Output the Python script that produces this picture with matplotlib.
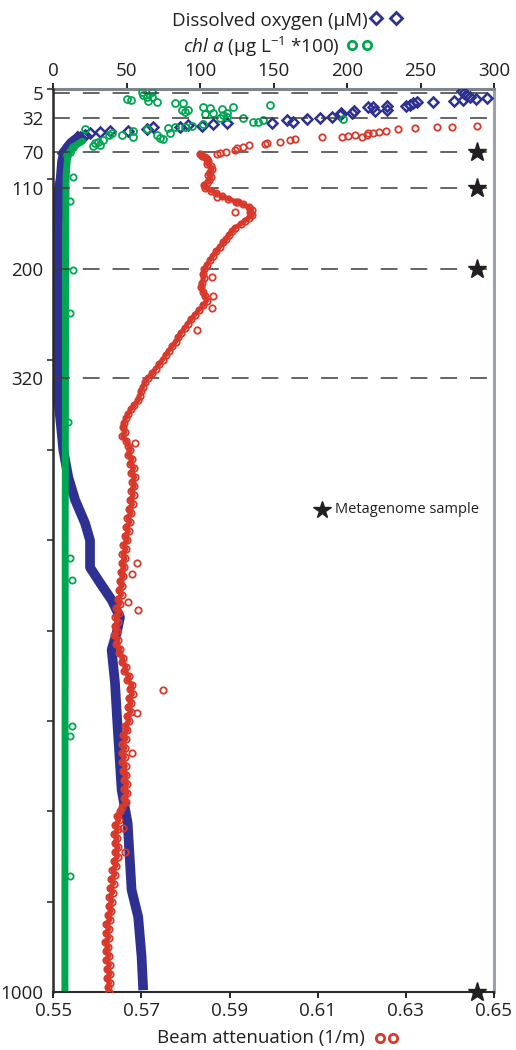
import matplotlib
matplotlib.use("Agg")
import matplotlib.pyplot as plt
from matplotlib.lines import Line2D

plt.rcParams['font.family'] = ['Open Sans', 'DejaVu Sans']
plt.rcParams['mathtext.fontset'] = 'custom'
plt.rcParams['mathtext.rm'] = 'Open Sans'
plt.rcParams['mathtext.it'] = 'Open Sans:italic'

BLUE = '#2e3192'
GREEN = '#00a651'
RED = '#d9392b'
STAR = '#231f20'

# ---- dissolved oxygen (uM), sparse surface diamonds
oxy_top_depth = [2.2, 5.1, 7.0, 8.8, 11.4, 9.9, 13.6, 12.5, 14.7, 14.7, 16.2, 18.0, 19.2,
                 19.2, 23.6, 19.9, 24.7, 20.6, 24.7, 27.2, 26.5, 29.1, 31.0, 32.8, 33.9,
                 36.5, 34.7, 37.6, 38.4, 39.1, 40.9, 40.2, 42.8, 42.8, 44.6, 46.5, 46.5,
                 48.3, 49.4, 51.3, 53.1, 55.0, 58.7, 64.2, 67.9, 71.5]
oxy_top_val = [278, 279.5, 281, 283.6, 288, 295.4, 273, 278.6, 258.7, 247.8, 245, 242.8, 240,
               227, 227, 217.8, 219, 214.4, 204.7, 203, 196, 195, 189.5, 181.5, 172.4,
               163.4, 159.3, 148.6, 118, 109, 101, 92, 86, 68, 63.5, 51, 38.6,
               31.8, 25, 21.6, 18, 15.9, 12.5, 10.2, 8, 6.8]

# ---- dissolved oxygen, dense profile (drawn as a thick band)
oxy_depth = [50, 55, 60, 65, 70, 80, 90, 100, 110, 150, 200, 250, 300, 344, 381, 400, 430,
             455, 481, 500, 530, 547, 566, 585, 603, 621, 658, 702, 776, 813, 887, 917, 961, 998]
oxy_val = [19, 16, 12, 9.5, 7.5, 6, 5.5, 5, 3.8, 3.2, 3, 3, 3, 3.4, 5.7, 6.8, 10.2,
           14.8, 21.6, 25, 25, 31.8, 39.7, 45.4, 43.1, 39.7, 42, 43.6, 46.5, 50.6, 53.3, 57.8, 60.1, 61.2]

# ---- chl a (ug/L * 100), surface circles
chl_top_depth = [3.3, 3.3, 7.0, 9.6, 9.6, 14.4, 11.4, 12.5, 13.3, 16.2, 15.5, 23.6, 25.4,
                 23.6, 19.9, 21.7, 28.0, 27.2, 22.4, 29.1, 27.2, 20.6, 32.8, 31.7, 32.8,
                 36.5, 36.5, 34.7, 18.4, 33.9, 39.4, 41.3, 42.0, 42.8, 43.9, 46.5, 53.1,
                 51.3, 48.7, 51.3, 56.8, 58.7, 60.4, 62.3, 63.4, 45.0, 51.3, 55.0, 56.0,
                 45.0, 49.4, 64.2, 69.7, 73.4]
chl_top_val = [60.1, 66.9, 61.3, 63.5, 66.9, 70.3, 49.9, 52.9, 64.7, 82.8, 88.5, 87.4, 89.6,
               91.9, 102.1, 106.6, 103.2, 108.9, 114.6, 115.7, 118, 122.5, 113.4, 118, 129.3,
               136.1, 139.5, 143, 147.5, 197.4, 102.1, 94.2, 89.6, 82.8, 78.3, 54.5, 54.5,
               46.5, 39.7, 38.1, 34, 30.6, 28.4, 31.8, 27.2, 21.6, 70.3, 72.6, 74.9,
               63.5, 79.4, 13.6, 11.3, 9.1]

# ---- chl a dense profile and a few deep outliers
chl_depth = [58, 62, 66, 70, 75, 80, 90, 100, 150, 200, 300, 400, 500, 600, 700, 800, 900, 1000]
chl_val = [20, 16, 13, 11, 10, 9.5, 9, 8.7, 8.5, 8.4, 8.3, 8.2, 8.1, 8.1, 8.0, 8.0, 7.9, 7.9]
chl_out_depth = [97.4, 124, 200.7, 248, 368.6, 519.5, 544, 706, 717, 872]
chl_out_val = [13.6, 11.3, 13.2, 11.3, 10.2, 11.4, 12.5, 12.5, 11.4, 11.4]

# ---- beam attenuation (1/m)
att_depth = [41.3, 42.0, 42.8, 43.9, 45.0, 46.5, 47.6, 48.7, 49.4, 51.3, 53.9, 51.3, 52.4,
             53.1, 53.9, 56.1, 56.8, 58.7, 60.4, 61.2, 62.3, 64.2, 66.0, 67.9, 69.7, 71.5,
             72, 74, 76, 78, 80, 83, 86, 89, 92, 95, 98, 101, 104, 107, 110, 113, 116, 119,
             122, 125, 128, 131, 134, 137, 140, 143, 146, 150, 154, 158, 162, 166, 170, 175,
             180, 185, 190, 195, 200, 205, 210, 215, 220, 225, 230, 235, 240, 245, 250, 255,
             260, 265, 270, 275, 280, 285, 290, 295, 300, 305, 310, 315, 320, 325, 330, 335,
             340, 345, 350, 355, 360, 365, 370, 375, 380, 385, 390, 395, 400, 405, 410, 415,
             420, 425, 430, 435, 440, 445, 450, 455, 460, 465, 470, 475, 480, 485, 490, 495,
             500, 505, 510, 515, 520, 525, 530, 535, 540, 545, 550, 555, 560, 565, 570, 575,
             580, 585, 590, 595, 600, 605, 610, 615, 620, 625, 630, 635, 640, 645, 650, 655,
             660, 665, 670, 675, 680, 685, 690, 695, 700, 705, 710, 715, 720, 725, 730, 735,
             740, 745, 750, 755, 760, 765, 770, 775, 780, 785, 790, 795, 800, 805, 810, 815,
             820, 825, 830, 835, 840, 845, 850, 855, 860, 865, 870, 875, 880, 885, 890, 895,
             900, 905, 910, 915, 920, 925, 930, 935, 940, 945, 950, 955, 960, 965, 970, 975,
             980, 985, 990, 995, 1000]
att_val = [0.6462, 0.6404, 0.6370, 0.6321, 0.6283, 0.6256, 0.6238, 0.6226, 0.6215, 0.6211,
           0.6200, 0.6185, 0.6169, 0.6154, 0.6109, 0.6048, 0.6037, 0.6014, 0.5984, 0.5980,
           0.5943, 0.5931, 0.5916, 0.5912, 0.5893, 0.5878,
           0.5832, 0.5838, 0.5845, 0.5848, 0.5852, 0.5849, 0.5857, 0.5859, 0.5855, 0.5852,
           0.5858, 0.5854, 0.5848, 0.5842, 0.5845, 0.5858, 0.5870, 0.5882, 0.5897, 0.5915,
           0.5930, 0.5944, 0.5950, 0.5946, 0.5952, 0.5944, 0.5936, 0.5925, 0.5912, 0.5905,
           0.5899, 0.5893, 0.5886, 0.5878, 0.5870, 0.5862, 0.5855, 0.5849, 0.5843, 0.5840,
           0.5841, 0.5838, 0.5836, 0.5840, 0.5845, 0.5848, 0.5840, 0.5830, 0.5822, 0.5813,
           0.5805, 0.5798, 0.5790, 0.5784, 0.5778, 0.5770, 0.5762, 0.5755, 0.5748, 0.5740,
           0.5732, 0.5725, 0.5715, 0.5708, 0.5703, 0.5699, 0.5696,
           0.5692, 0.5684, 0.5676, 0.5670, 0.5664, 0.5661, 0.5658, 0.5663, 0.5657, 0.5666,
           0.5670, 0.5675, 0.5669, 0.5679, 0.5674, 0.5683, 0.5676, 0.5685, 0.5679, 0.5684,
           0.5677, 0.5682, 0.5674, 0.5680, 0.5671, 0.5677, 0.5668, 0.5674, 0.5665, 0.5671,
           0.5662, 0.5668, 0.5659, 0.5665, 0.5657, 0.5663, 0.5655, 0.5661, 0.5653, 0.5659,
           0.5651, 0.5657, 0.5648, 0.5655, 0.5646, 0.5652, 0.5643, 0.5649, 0.5641, 0.5647,
           0.5640, 0.5645, 0.5638, 0.5647, 0.5643, 0.5652, 0.5648, 0.5658, 0.5655, 0.5665,
           0.5661, 0.5672, 0.5668, 0.5679, 0.5673, 0.5680, 0.5672, 0.5677, 0.5670, 0.5676,
           0.5667, 0.5672, 0.5663, 0.5668, 0.5659, 0.5665, 0.5657, 0.5663, 0.5655, 0.5662,
           0.5656, 0.5664, 0.5658, 0.5666, 0.5660, 0.5667, 0.5661, 0.5668, 0.5660, 0.5666,
           0.5656, 0.5652, 0.5645, 0.5649, 0.5640, 0.5646, 0.5638, 0.5645, 0.5639, 0.5647,
           0.5640, 0.5646, 0.5637, 0.5643, 0.5634, 0.5640, 0.5631, 0.5637, 0.5629, 0.5635,
           0.5627, 0.5633, 0.5626, 0.5632, 0.5623, 0.5629, 0.5620, 0.5627, 0.5619, 0.5626,
           0.5618, 0.5625, 0.5619, 0.5627, 0.5620, 0.5628, 0.5621, 0.5629, 0.5622, 0.5628,
           0.5623, 0.5626]
att_out_depth = [72.3, 119.6, 125, 136, 208, 229, 243, 267, 392, 525, 537, 568, 577, 665.7,
                 691, 735, 818, 845]
att_out_val = [0.5871, 0.5871, 0.5919, 0.5912, 0.5859, 0.5862, 0.5859, 0.5825, 0.5685, 0.5689,
               0.5678, 0.5670, 0.5693, 0.5750, 0.5689, 0.5678, 0.5659, 0.5663]

# ---- sampled depths
guide_depths = [5, 32, 70, 110, 200, 320]
depth_labels = [5, 32, 70, 110, 200, 320, 1000]
sample_depths = [70, 110, 200, 1000]
sample_att = [0.6461, 0.6461, 0.6461, 0.6461]

W, H = 516, 1050
fig = plt.figure(figsize=(W / 100, H / 100), dpi=100)
ax = fig.add_axes([53.3 / W, 1 - 992 / H, (494 - 53.3) / W, (992 - 88.7) / H])
ax_top = ax.twiny()
ax.set_zorder(ax_top.get_zorder() + 1)
ax.patch.set_visible(False)

ax.set_xlim(0.55, 0.65)
ax.set_ylim(1000, 0)
ax_top.set_xlim(0, 300)

for d in guide_depths:
    ax.axhline(d, color='#3a3a3a', lw=1.1, dashes=(11, 8.5), zorder=1)

# oxygen and chl a on the upper axis
ax_top.plot(oxy_val, oxy_depth, color=BLUE, lw=7, solid_capstyle='butt', zorder=3)
ax_top.plot(oxy_top_val, oxy_top_depth, ls='none', marker='D', ms=5, mfc='none',
            mec=BLUE, mew=1.8, zorder=3)
ax_top.plot(chl_val, chl_depth, color=GREEN, lw=5, solid_capstyle='round', zorder=4)
ax_top.plot(chl_top_val, chl_top_depth, ls='none', marker='o', ms=5, mfc='none',
            mec=GREEN, mew=1.3, zorder=4)
ax_top.plot(chl_out_val, chl_out_depth, ls='none', marker='o', ms=4.5, mfc='none',
            mec=GREEN, mew=1.3, zorder=4)

# beam attenuation on the lower axis
ax.plot(att_val[26:], att_depth[26:], color=RED, lw=3.4, zorder=5)
ax.plot(att_val, att_depth, ls='none', marker='o', ms=4.6, mfc='none', mec=RED,
        mew=1.3, zorder=5)
ax.plot(att_out_val, att_out_depth, ls='none', marker='o', ms=4.6, mfc='none', mec=RED,
        mew=1.3, zorder=5)

ax.plot(sample_att, sample_depths, ls='none', marker='*', ms=14, color=STAR,
        clip_on=False, zorder=8)
ax.plot([0.6110], [466], ls='none', marker='*', ms=13, color=STAR, zorder=8)
ax.text(0.6139, 466, 'Metagenome sample', fontsize=10.5, va='center', ha='left',
        color='#231f20')

# axes styling
ax.set_yticks(depth_labels)
ax.set_yticklabels([str(d) for d in depth_labels])
ax.set_yticks(range(0, 1001, 100), minor=True)
ax.tick_params(axis='y', which='major', length=0, pad=7, labelsize=13.5, labelcolor='#231f20')
ax.tick_params(axis='y', which='minor', length=4, width=1.2, direction='out', color='#333')

ax.set_xticks([0.55, 0.57, 0.59, 0.61, 0.63, 0.65])
ax.set_xticklabels(['0.55', '0.57', '0.59', '0.61', '0.63', '0.65'])
ax.tick_params(axis='x', length=4, width=1.2, pad=3, labelsize=13.5, labelcolor='#231f20')
ax_top.set_xticks(range(0, 301, 50))
ax_top.tick_params(axis='x', length=4, width=1.2, pad=2, labelsize=13.5, labelcolor='#231f20')

for s in ['top', 'right']:
    ax.spines[s].set_visible(False)
for s in ['left', 'bottom']:
    ax_top.spines[s].set_visible(False)
ax.spines['left'].set_linewidth(1.8)
ax.spines['left'].set_color('#2b2b2b')
ax.spines['bottom'].set_linewidth(1.5)
ax.spines['bottom'].set_color('#2b2b2b')
ax_top.spines['top'].set_linewidth(2.2)
ax_top.spines['top'].set_color('#7d858d')
ax_top.spines['right'].set_linewidth(2.2)
ax_top.spines['right'].set_color('#9aa1a8')

# axis titles with their marker keys
fig.text(368 / W, 1 - 25.7 / H, 'Dissolved oxygen (µM)', fontsize=13.5, ha='right',
         va='baseline', color='#231f20')
fig.add_artist(Line2D([376 / W, 396 / W], [1 - 18 / H, 1 - 18 / H], ls='none', marker='D',
                      ms=6, mfc='none', mec=BLUE, mew=2, transform=fig.transFigure))
fig.text(340 / W, 1 - 53.3 / H, r'$\mathit{chl\ a}$ (µg L$^{-1}$ *100)', fontsize=13.5,
         ha='right', va='baseline', color='#231f20')
fig.add_artist(Line2D([352 / W, 367 / W], [1 - 45 / H, 1 - 45 / H], ls='none', marker='o',
                      ms=6, mfc='none', mec=GREEN, mew=2, transform=fig.transFigure))
fig.text(365 / W, 1 - 1043 / H, 'Beam attenuation (1/m)', fontsize=13.5, ha='right',
         va='baseline', color='#231f20')
fig.add_artist(Line2D([380 / W, 393 / W], [1 - 1038 / H, 1 - 1038 / H], ls='none', marker='o',
                      ms=6, mfc='none', mec=RED, mew=2, transform=fig.transFigure))

fig.savefig('out.png', dpi=100)
